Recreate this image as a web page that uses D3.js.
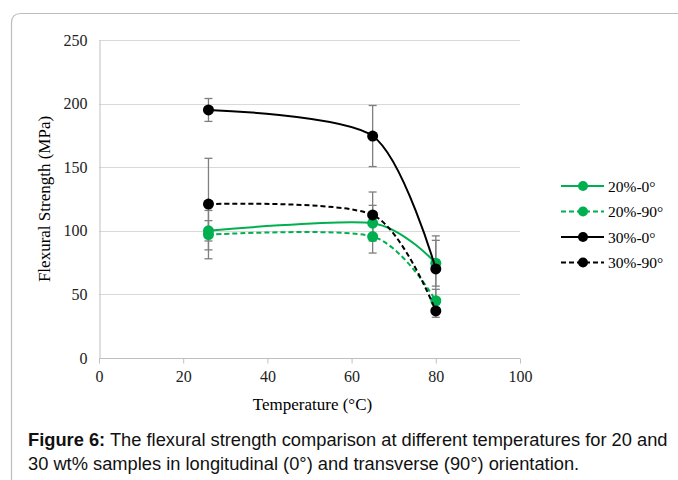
<!DOCTYPE html>
<html>
<head>
<meta charset="utf-8">
<script src="https://cdn.jsdelivr.net/npm/d3@7"></script>
<style>
  body { margin: 0; background: #fff; }
  svg { display: block; }
</style>
</head>
<body>
<svg id="chart" width="678" height="480"></svg>
<script>
var temps = [26, 65, 80];
var seriesNames = ['20%-0°', '20%-90°', '30%-0°', '30%-90°'];
var seriesColors = ['#00b050', '#00b050', '#000000', '#000000'];
var seriesDashed = [false, true, false, true];
var strength20_0 = [100, 106, 74.5];
var strength20_90 = [97, 95.5, 45];
var strength30_0 = [195, 174.5, 70];
var strength30_90 = [121, 112.5, 37];
var err20_0 = [8, 14, 18];
var err20_90 = [19, 13, 9];
var err30_0 = [9, 24, 26];
var err30_90 = [36, 18, 5];
var xTicks = [0, 20, 40, 60, 80, 100];
var yTicks = [0, 50, 100, 150, 200, 250];

var values = [strength20_0, strength20_90, strength30_0, strength30_90];
var errors = [err20_0, err20_90, err30_0, err30_90];

var serif = '"Liberation Serif", "Times New Roman", serif';
var svg = d3.select('#chart');

// frame of the figure
svg.append('path')
    .attr('d', 'M11.5,490 L11.5,23 Q11.5,13.5 21,13.5 L700,13.5')
    .style('fill', 'none')
    .style('stroke', '#bdbdbd')
    .style('stroke-width', 1.2);

var x = d3.scaleLinear().domain([0, 100]).range([99, 520]);
var y = d3.scaleLinear().domain([0, 250]).range([358, 40]);

// gridlines
svg.append('g').selectAll('line').data(yTicks.slice(1)).enter().append('line')
    .attr('x1', x(0)).attr('x2', x(100))
    .attr('y1', function (d) { return Math.round(y(d)) + 0.5; })
    .attr('y2', function (d) { return Math.round(y(d)) + 0.5; })
    .style('stroke', '#d9d9d9').style('stroke-width', 1);

var yAxis = svg.append('g').attr('transform', 'translate(' + (x(0) + 0.5) + ',0)')
    .call(d3.axisLeft(y).tickValues(yTicks).tickSize(0).tickPadding(12));
var xAxis = svg.append('g').attr('transform', 'translate(0,' + (y(0) + 0.5) + ')')
    .call(d3.axisBottom(x).tickValues(xTicks).tickSize(5).tickPadding(7));

[yAxis, xAxis].forEach(function (ax) {
    ax.select('.domain').style('stroke', '#bfbfbf');
    ax.selectAll('.tick line').style('stroke', '#bfbfbf');
    ax.selectAll('text')
        .style('font-family', serif)
        .style('font-size', '16px')
        .style('fill', '#222');
});
xAxis.select('.domain').attr('d', 'M' + x(0) + ',0H' + x(100));

svg.append('text')
    .attr('transform', 'translate(50,' + y(125) + ') rotate(-90)')
    .attr('text-anchor', 'middle')
    .style('font-family', serif)
    .style('font-size', '17px')
    .text('Flexural Strength (MPa)');

svg.append('text')
    .attr('x', x(50) + 3).attr('y', 410)
    .attr('text-anchor', 'middle')
    .style('font-family', serif)
    .style('font-size', '17px')
    .text('Temperature (°C)');

// error bars
var errG = svg.append('g');
values.forEach(function (vals, s) {
    vals.forEach(function (v, i) {
        var e = errors[s][i];
        var cx = x(temps[i]);
        errG.append('line')
            .attr('x1', cx).attr('x2', cx)
            .attr('y1', y(v + e)).attr('y2', y(v - e))
            .style('stroke', '#7f7f7f').style('stroke-width', 1.3);
        [v + e, v - e].forEach(function (c) {
            errG.append('line')
                .attr('x1', cx - 4).attr('x2', cx + 4)
                .attr('y1', y(c)).attr('y2', y(c))
                .style('stroke', '#7f7f7f').style('stroke-width', 1.3);
        });
    });
});

var line = d3.line()
    .x(function (d, i) { return x(temps[i]); })
    .y(function (d) { return y(d); })
    .curve(d3.curveCardinal.tension(0.2));

values.forEach(function (vals, s) {
    var g = svg.append('g');
    g.append('path')
        .attr('d', line(vals))
        .style('fill', 'none')
        .style('stroke', seriesColors[s])
        .style('stroke-width', 2)
        .style('stroke-dasharray', seriesDashed[s] ? '5,3' : null);
    g.selectAll('circle').data(vals).enter().append('circle')
        .attr('cx', function (d, i) { return x(temps[i]); })
        .attr('cy', function (d) { return y(d); })
        .attr('r', 5.5)
        .style('fill', seriesColors[s]);
});

// legend
var legend = svg.append('g');
seriesNames.forEach(function (name, s) {
    var ly = 186 + s * 25.5;
    legend.append('line')
        .attr('x1', 561).attr('x2', 604)
        .attr('y1', ly).attr('y2', ly)
        .style('stroke', seriesColors[s])
        .style('stroke-width', 2)
        .style('stroke-dasharray', seriesDashed[s] ? '5,3' : null);
    legend.append('circle')
        .attr('cx', 583).attr('cy', ly).attr('r', 5)
        .style('fill', seriesColors[s]);
    legend.append('text')
        .attr('x', 608).attr('y', ly + 5.5)
        .style('font-family', serif)
        .style('font-size', '15.5px')
        .text(name);
});

// caption
var cap = svg.append('text')
    .attr('x', 28).attr('y', 446)
    .style('font-family', '"Liberation Sans", Arial, sans-serif')
    .style('font-size', '18.3px')
    .style('fill', '#111');
cap.append('tspan').style('font-weight', 'bold').text('Figure 6:');
cap.append('tspan').text(' The flexural strength comparison at different temperatures for 20 and');
svg.append('text')
    .attr('x', 28).attr('y', 470)
    .style('font-family', '"Liberation Sans", Arial, sans-serif')
    .style('font-size', '18.3px')
    .style('fill', '#111')
    .text('30 wt% samples in longitudinal (0°) and transverse (90°) orientation.');
</script>
</body>
</html>
